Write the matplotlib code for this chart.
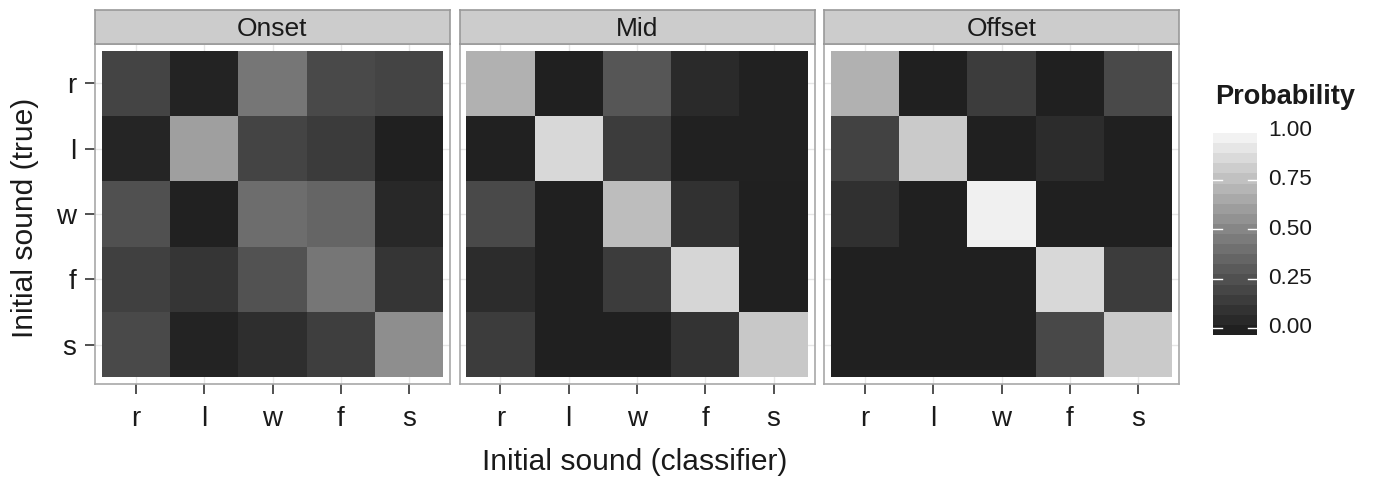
import numpy as np
import matplotlib
matplotlib.use("Agg")
import matplotlib.pyplot as plt
from matplotlib.colors import ListedColormap, Normalize
from matplotlib.transforms import blended_transform_factory

plt.rcParams["font.family"] = ["Liberation Sans", "DejaVu Sans"]

# Confusion probabilities: rows = true initial sound, columns = classifier output
sounds = ["r", "l", "w", "f", "s"]
positions = ["Onset", "Mid", "Offset"]

onset = [
    [0.20, 0.02, 0.45, 0.23, 0.20],
    [0.03, 0.64, 0.20, 0.15, 0.00],
    [0.26, 0.01, 0.41, 0.37, 0.05],
    [0.18, 0.12, 0.27, 0.45, 0.12],
    [0.23, 0.02, 0.08, 0.17, 0.56],
]
mid = [
    [0.72, 0.00, 0.29, 0.06, 0.01],
    [0.01, 0.89, 0.16, 0.01, 0.01],
    [0.23, 0.00, 0.77, 0.10, 0.00],
    [0.07, 0.00, 0.16, 0.88, 0.00],
    [0.16, 0.00, 0.00, 0.11, 0.82],
]
offset = [
    [0.72, 0.00, 0.16, 0.00, 0.23],
    [0.19, 0.83, 0.00, 0.07, 0.00],
    [0.09, 0.00, 0.99, 0.00, 0.00],
    [0.00, 0.00, 0.00, 0.89, 0.16],
    [0.00, 0.00, 0.00, 0.22, 0.83],
]
legend_ticks = [0.0, 0.25, 0.5, 0.75, 1.0]
legend_labels = ["0.00", "0.25", "0.50", "0.75", "1.00"]


def lab_grey(L):
    """sRGB grey level for a CIELAB lightness."""
    fy = (L + 16) / 116
    Y = fy ** 3 if fy > 6 / 29 else 3 * (6 / 29) ** 2 * (fy - 4 / 29)
    return 1.055 * Y ** (1 / 2.4) - 0.055 if Y > 0.0031308 else 12.92 * Y


# grey gradient interpolated in Lab lightness
L_lo, L_hi = 12.3, 95.5
greys = [lab_grey(L_lo + v * (L_hi - L_lo)) for v in np.linspace(0, 1, 256)]
cmap = ListedColormap([(g, g, g) for g in greys])
norm = Normalize(0, 1)

W, H = 1374, 483
fig = plt.figure(figsize=(W / 100, H / 100), dpi=100)

txt = "#1a1a1a"
panel_left = [95, 459.5, 824]
pw = 355
p_top, p_bot = 44, 384
strip_top = 10

for k, (name, data) in enumerate(zip(positions, [onset, mid, offset])):
    x0 = panel_left[k]
    ax = fig.add_axes([x0 / W, 1 - p_bot / H, pw / W, (p_bot - p_top) / H])
    ax.set_facecolor("white")
    ax.set_axisbelow(True)
    ax.grid(True, color="#e6e6e6", lw=1.0)
    ax.pcolormesh(np.arange(6) - 0.5, np.arange(6) - 0.5, np.array(data),
                  cmap=cmap, norm=norm, edgecolors="none")
    ax.set_xlim(-0.6, 4.6)
    ax.set_ylim(4.6, -0.6)
    ax.set_xticks(range(5))
    ax.set_xticklabels(sounds)
    ax.set_yticks(range(5))
    ax.set_yticklabels(sounds)
    for sp in ax.spines.values():
        sp.set_color("#a8a8a8")
        sp.set_linewidth(1.2)
    ax.tick_params(axis="both", length=7.2, width=1.2, color="#333333",
                   labelsize=20, labelcolor=txt)
    ax.tick_params(axis="x", pad=9)
    ax.tick_params(axis="y", pad=6.5)
    if k > 0:
        ax.tick_params(axis="y", left=False, labelleft=False)

    sax = fig.add_axes([x0 / W, 1 - p_top / H, pw / W, (p_top - strip_top) / H])
    sax.set_facecolor("#cccccc")
    sax.set_xticks([])
    sax.set_yticks([])
    for sp in sax.spines.values():
        sp.set_color("#999999")
        sp.set_linewidth(1.2)
    sax.text(0.5, 0.45, name, ha="center", va="center", fontsize=19,
             color=txt, transform=sax.transAxes)

# axis titles
fig.text(635 / W, 1 - 462 / H, "Initial sound (classifier)", ha="center",
         va="center", fontsize=21.6, color=txt)
fig.text(25 / W, 1 - 218 / H, "Initial sound (true)", ha="center",
         va="center", rotation=90, fontsize=21.6, color=txt)

# colour bar
cb_x0, cb_x1, cb_top, cb_bot = 1213, 1257, 133, 335
lo, hi = -0.0354, 0.985
cax = fig.add_axes([cb_x0 / W, 1 - cb_bot / H, (cb_x1 - cb_x0) / W,
                    (cb_bot - cb_top) / H])
nbin = 20
cax.pcolormesh([0, 1], np.linspace(lo, hi, nbin + 1),
               np.linspace(0, 1, nbin).reshape(-1, 1), cmap=cmap, norm=norm)
cax.set_xlim(0, 1)
cax.set_ylim(lo, hi)
cax.set_xticks([])
cax.set_yticks([])
for sp in cax.spines.values():
    sp.set_visible(False)
tr = blended_transform_factory(cax.transAxes, cax.transData)
for v, lab in zip(legend_ticks, legend_labels):
    if v <= hi:
        cax.plot([0, 0.2], [v, v], color="white", lw=1.0, transform=tr)
        cax.plot([0.8, 1], [v, v], color="white", lw=1.0, transform=tr)
    cax.text(1.25, v, lab, ha="left", va="center", fontsize=16.2, color=txt,
             transform=tr, clip_on=False)

fig.text(1215 / W, 1 - 97 / H, "Probability", ha="left", va="center",
         fontsize=19.5, fontweight="bold", color=txt)

fig.savefig("out.png", dpi=100, facecolor="white")
